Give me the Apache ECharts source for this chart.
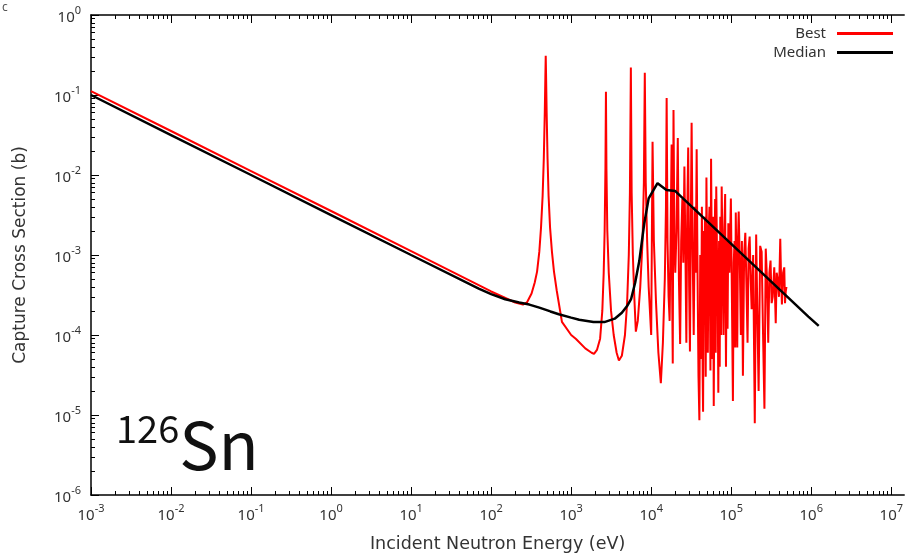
<!DOCTYPE html>
<html><head><meta charset="utf-8">
<script src="https://cdn.jsdelivr.net/npm/echarts@6/dist/echarts.min.js"></script>
<style>html,body{margin:0;padding:0;background:#fff}#c{width:906px;height:558px}</style>
</head><body><div id="c"></div>
<script>
// ---- data ----
const bestEnergy = [
  1e-3,1e-2,1e-1,1,10,100,200,250,280,320,350,375,400,420,440,455,468,476,481,486,494,507,522,545,575,610,660,767,
  1000,1150,1500,1800,1930,2100,2300,2450,2550,2620,2680,2720,2760,2830,2950,3150,3400,3700,3950,4300,4700,5000,
  5250,5420,5570,5700,5900,6150,6430,6800,7300,7800,8100,8320,8550,8900,9300,10000,10400,10800,11500,12300,13200,14000,14800,15300,
  15600,16000,16500,17000,17500,18000,18300,18600,19000,19500,20000,20700,21500,22200,23000,23700,24500,25200,26000,26800,
  27500,28200,29000,29800,30500,31200,32000,33000,34000,35200,36000,37000,38000,39000,40000,41000,42000,43000,44000,44500,
  45500,46300,47000,48000,49000,50000,51000,52300,53500,54300,55000,56000,57000,58000,59200,60500,61800,63000,64000,65000,
  66500,68000,69000,70500,71800,73000,74500,76000,78000,80000,82000,84000,85000,86000,88000,90000,92000,95000,99000,102000,
  105000,107500,110000,112000,114000,116500,119000,121500,124000,128000,132000,136000,140000,145000,150000,155000,160000,165000,170000,175000,
  180000,188000,197000,205000,212000,220000,230000,240000,250000,260000,270000,280000,290000,300000,310000,320000,330000,345000,360000,370000,
  380000,395000,410000,420000,430000,445000,460000,470000,480000,490000];
const bestValue = [
  0.112,0.0355,0.0112,3.55e-3,1.12e-3,3.5e-4,2.55e-4,2.4e-4,2.55e-4,3.3e-4,4.5e-4,6.2e-4,1.1e-3,2.2e-3,5.5e-3,0.016,0.06,0.17,0.31,0.17,0.06,0.016,5.5e-3,2.2e-3,1.1e-3,6.2e-4,3.6e-4,1.46e-4,
  1e-4,8.9e-5,6.8e-5,6e-5,5.8e-5,6.5e-5,9e-5,2e-4,6e-4,2e-3,1.2e-2,0.11,1.2e-2,2e-3,6e-4,2e-4,1e-4,6e-5,4.8e-5,5.5e-5,1e-4,2.5e-4,
  1e-3,6e-3,0.22,6e-3,1e-3,3e-4,1.1e-4,1.5e-4,4e-4,1.5e-3,8e-3,0.19,8e-3,1.5e-3,4e-4,1e-4,0.026,1.5e-3,2.5e-4,6e-5,2.5e-5,8e-5,5e-4,4e-3,
  0.092,1.5e-3,3e-4,1.5e-4,2e-3,0.024,3e-4,4.4e-5,0.065,1.5e-3,6e-4,2e-3,0.029,5e-4,7.7e-5,1.5e-3,5e-3,8e-4,0.0128,1e-3,
  8e-5,3e-3,0.022,4e-4,6.2e-5,2e-3,0.045,1e-3,1e-4,4e-3,6e-4,0.021,5e-4,3e-5,8.6e-6,1e-3,5e-5,4e-3,3e-5,1.1e-5,
  2e-3,4e-4,3e-3,3e-5,9.3e-3,8e-4,6e-5,2e-3,4e-3,3e-4,3.6e-5,0.016,1.5e-3,5e-5,3e-3,1.3e-5,1e-3,5e-3,6e-5,7.2e-3,
  1e-3,2e-4,1.9e-5,1.5e-3,4e-5,3e-3,1e-4,7.2e-3,1e-3,1e-4,2e-3,5.8e-3,3e-4,4e-5,1.5e-3,1.2e-4,2.5e-3,6e-4,5.1e-3,3e-4,
  1.5e-5,8e-4,1.5e-3,7e-5,3.4e-3,6e-4,7e-5,1.5e-3,3.5e-3,8e-4,1e-4,1.5e-3,3.1e-5,1e-3,1.9e-3,4e-4,8e-5,1.2e-3,1.7e-3,5e-4,
  2.1e-4,1e-3,7.9e-6,1.8e-3,2e-4,2e-5,1.3e-3,1.1e-3,1e-4,1.2e-5,1.2e-3,5e-4,8e-5,6e-4,8.5e-4,2.5e-4,3e-4,7e-4,1.4e-4,6e-4,
  5e-4,3e-4,1.6e-3,5e-4,2.4e-4,6e-4,7e-4,2.5e-4,3.5e-4,4e-4];
const medianEnergy = [1e-3,1e-2,1e-1,1,10,70,100,150,224,300,400,550,700,1000,1260,1900,2600,3500,4300,5000,5600,6300,7100,8200,9300,12000,15500,20000,920000,1240000];
const medianValue = [0.1,0.0316,0.01,3.16e-3,1e-3,3.8e-4,3.25e-4,2.8e-4,2.55e-4,2.4e-4,2.2e-4,1.97e-4,1.82e-4,1.65e-4,1.55e-4,1.45e-4,1.45e-4,1.6e-4,1.9e-4,2.3e-4,2.8e-4,4.5e-4,8.4e-4,2.5e-3,5.1e-3,7.9e-3,6.5e-3,6.3e-3,1.7e-4,1.3e-4];
const xTickValues = [1e-3,1e-2,1e-1,1,10,100,1e3,1e4,1e5,1e6,1e7];
const yTickValues = [1e-6,1e-5,1e-4,1e-3,1e-2,1e-1,1];
const seriesNames = ['Best','Median'];

// minor tick positions (2..9 within each decade)
function minors(lo, hi){ const r=[]; for(let e=lo;e<hi;e++){ for(let m=2;m<=9;m++){ r.push(m*Math.pow(10,e)); } } return r; }
const xMinor = minors(-3, 7);
const yMinor = minors(-6, 0);

const zip = (a,b)=>a.map((v,i)=>[v,b[i]]);
const lblColor = '#333';
const fmt = v => { const e = Math.round(Math.log10(v)); return '{b|10}{s|' + e + '}'; };
const rich = {
  b:{fontSize:15,color:lblColor,fontFamily:'Noto Sans',lineHeight:20,verticalAlign:'bottom'},
  s:{fontSize:11,color:lblColor,fontFamily:'Noto Sans',lineHeight:12,verticalAlign:'top'}
};
const X_MIN=1e-3, X_MAX=1.45e7, Y_MIN=1e-6, Y_MAX=1;
const blackLine = {show:true,lineStyle:{color:'#000',width:1.5}};
function xAx(opts){ return Object.assign({type:'log',logBase:10,min:X_MIN,max:X_MAX,gridIndex:0,splitLine:{show:false}}, opts); }
function yAx(opts){ return Object.assign({type:'log',logBase:10,min:Y_MIN,max:Y_MAX,gridIndex:0,splitLine:{show:false}}, opts); }
const titleFont = {color:lblColor,fontFamily:'DejaVu Sans'};

const chart = echarts.init(document.getElementById('c'), null, {renderer:'canvas'});
chart.setOption({
  animation:false,
  backgroundColor:'#fff',
  grid:{left:91,top:15,right:0,bottom:61,containLabel:false},
  xAxis:[
    xAx({position:'bottom',name:'Incident Neutron Energy (eV)',nameLocation:'middle',nameGap:40,
      nameTextStyle:Object.assign({fontSize:17.5},titleFont),
      axisLine:blackLine,
      axisTick:{show:true,inside:true,length:8,lineStyle:{color:'#000',width:1},customValues:xTickValues},
      axisLabel:{show:true,margin:8,formatter:fmt,rich:rich,customValues:xTickValues,showMinLabel:true,showMaxLabel:true}}),
    xAx({position:'top',axisLine:blackLine,
      axisTick:{show:true,inside:true,length:8,lineStyle:{color:'#000',width:1},customValues:xTickValues},
      axisLabel:{show:false}}),
    xAx({position:'bottom',axisLine:{show:false},
      axisTick:{show:true,inside:true,length:4,lineStyle:{color:'#000',width:1},customValues:xMinor},
      axisLabel:{show:false}}),
    xAx({position:'top',axisLine:{show:false},
      axisTick:{show:true,inside:true,length:4,lineStyle:{color:'#000',width:1},customValues:xMinor},
      axisLabel:{show:false}})
  ],
  yAxis:[
    yAx({position:'left',name:'Capture Cross Section (b)',nameLocation:'middle',nameGap:62,nameRotate:90,
      nameTextStyle:Object.assign({fontSize:17},titleFont),
      axisLine:blackLine,
      axisTick:{show:true,inside:true,length:8,lineStyle:{color:'#000',width:1},customValues:yTickValues},
      axisLabel:{show:true,margin:10,formatter:fmt,rich:rich,customValues:yTickValues,showMinLabel:true,showMaxLabel:true}}),
    yAx({position:'left',axisLine:{show:false},
      axisTick:{show:true,inside:true,length:4,lineStyle:{color:'#000',width:1},customValues:yMinor},
      axisLabel:{show:false}})
  ],
  legend:[
    {data:[seriesNames[0]],orient:'vertical',right:8,top:21,align:'right',icon:'rect',itemWidth:56,itemHeight:3,
     textStyle:{fontSize:15,color:lblColor,fontFamily:'Noto Sans',padding:[0,6,0,0]}},
    {data:[seriesNames[1]],orient:'vertical',right:8,top:40,align:'right',icon:'rect',itemWidth:56,itemHeight:3,
     textStyle:{fontSize:15,color:lblColor,fontFamily:'Noto Sans',padding:[0,6,0,0]}}
  ],
  graphic:[
    {type:'text',left:2,top:2,style:{text:'c',fontSize:12,fill:'#555',fontFamily:'Noto Sans'}},
    {type:'text',left:116,top:410,style:{text:'{a|126}{b|Sn}',rich:{
      a:{fontSize:38,fill:'#111',fontFamily:'Noto Sans CJK JP',lineHeight:34,verticalAlign:'top'},
      b:{fontSize:66,fill:'#111',fontFamily:'Noto Sans CJK JP',lineHeight:68,verticalAlign:'bottom'}}}}
  ],
  series:[
    {name:seriesNames[0],type:'line',xAxisIndex:0,yAxisIndex:0,data:zip(bestEnergy,bestValue),symbol:'none',
     lineStyle:{color:'#ff0000',width:2},itemStyle:{color:'#ff0000'},z:2},
    {name:seriesNames[1],type:'line',xAxisIndex:0,yAxisIndex:0,data:zip(medianEnergy,medianValue),symbol:'none',
     lineStyle:{color:'#000',width:2.5},itemStyle:{color:'#000'},z:3}
  ]
});
</script></body></html>
